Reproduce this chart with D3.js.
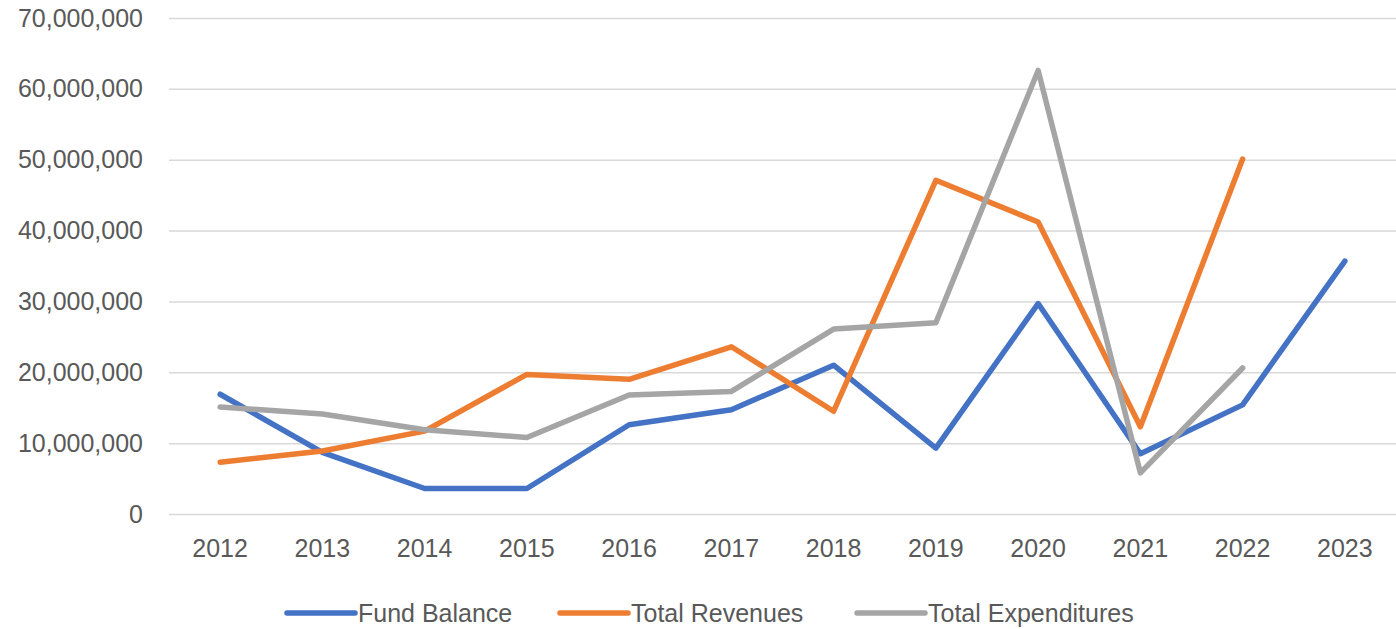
<!DOCTYPE html>
<html lang="en">
<head>
    <meta charset="UTF-8">
    <title>Fund Balance, Revenues and Expenditures</title>
    <script src="https://cdn.jsdelivr.net/npm/d3@7"></script>
    <style>
        body { margin: 0; background: #fff; }
        svg { display: block; font-family: "Liberation Sans", Arial, sans-serif; }
    </style>
</head>
<body>
    <div id="chart"></div>

    <script>
        // =============================
        // 1. Data
        // =============================
        const years = ["2012", "2013", "2014", "2015", "2016", "2017", "2018", "2019", "2020", "2021", "2022", "2023"];
        const fundBalance = [16900000, 8700000, 3600000, 3600000, 12600000, 14700000, 21000000, 9300000, 29700000, 8500000, 15400000, 35700000];
        const totalRevenues = [7300000, 8900000, 11700000, 19700000, 19000000, 23600000, 14500000, 47100000, 41200000, 12300000, 50100000, null];
        const totalExpenditures = [15100000, 14100000, 11900000, 10800000, 16800000, 17300000, 26100000, 27000000, 62600000, 5800000, 20600000, null];
        const yTicks = [0, 10000000, 20000000, 30000000, 40000000, 50000000, 60000000, 70000000];

        const series = [
            { name: "Fund Balance", values: fundBalance, color: "#4472C4" },
            { name: "Total Revenues", values: totalRevenues, color: "#ED7D31" },
            { name: "Total Expenditures", values: totalExpenditures, color: "#A5A5A5" }
        ];

        // =============================
        // 2. SVG Setup
        // =============================
        const width = 1396, height = 629;
        const margin = { top: 18, right: 0, bottom: 115, left: 169 };
        const innerWidth = width - margin.left - margin.right;
        const innerHeight = height - margin.top - margin.bottom;

        const svg = d3.select("#chart").append("svg")
            .attr("width", width)
            .attr("height", height);
        const g = svg.append("g")
            .attr("transform", `translate(${margin.left}, ${margin.top})`);

        const x = d3.scaleBand().domain(years).range([0, innerWidth]);
        const y = d3.scaleLinear().domain([0, 70000000]).range([innerHeight, 0]);

        // =============================
        // 3. Axes & gridlines
        // =============================
        const yAxis = g.append("g")
            .call(d3.axisLeft(y).tickValues(yTicks).tickSize(-innerWidth).tickPadding(26)
                .tickFormat(d3.format(",")));
        yAxis.select(".domain").remove();
        yAxis.selectAll(".tick line").attr("stroke", "#d9d9d9").attr("stroke-width", 1.5);
        yAxis.selectAll(".tick text")
            .attr("fill", "#595959")
            .attr("font-size", "25px");

        const xAxis = g.append("g")
            .attr("transform", `translate(0, ${innerHeight})`)
            .call(d3.axisBottom(x).tickSize(0).tickPadding(25));
        xAxis.select(".domain").remove();
        xAxis.selectAll(".tick text")
            .attr("fill", "#595959")
            .attr("font-size", "25px");

        // =============================
        // 4. Lines
        // =============================
        const line = d3.line()
            .defined(d => d.v !== null)
            .x(d => x(d.year) + x.bandwidth() / 2)
            .y(d => y(d.v));

        series.forEach(s => {
            g.append("path")
                .datum(years.map((yr, i) => ({ year: yr, v: s.values[i] })))
                .attr("fill", "none")
                .attr("stroke", s.color)
                .attr("stroke-width", 5.5)
                .attr("stroke-linejoin", "round")
                .attr("stroke-linecap", "round")
                .attr("d", line);
        });

        // =============================
        // 5. Legend
        // =============================
        const legendX = [287, 560, 857];
        const legend = svg.append("g").attr("transform", "translate(0, 613)");
        series.forEach((s, i) => {
            const item = legend.append("g").attr("transform", `translate(${legendX[i]}, 0)`);
            item.append("line")
                .attr("x1", 0).attr("x2", 68)
                .attr("stroke", s.color)
                .attr("stroke-width", 5.5)
                .attr("stroke-linecap", "round");
            item.append("text")
                .attr("x", 71)
                .attr("dy", "0.35em")
                .attr("fill", "#595959")
                .attr("font-size", "25px")
                .text(s.name);
        });
    </script>
</body>
</html>
